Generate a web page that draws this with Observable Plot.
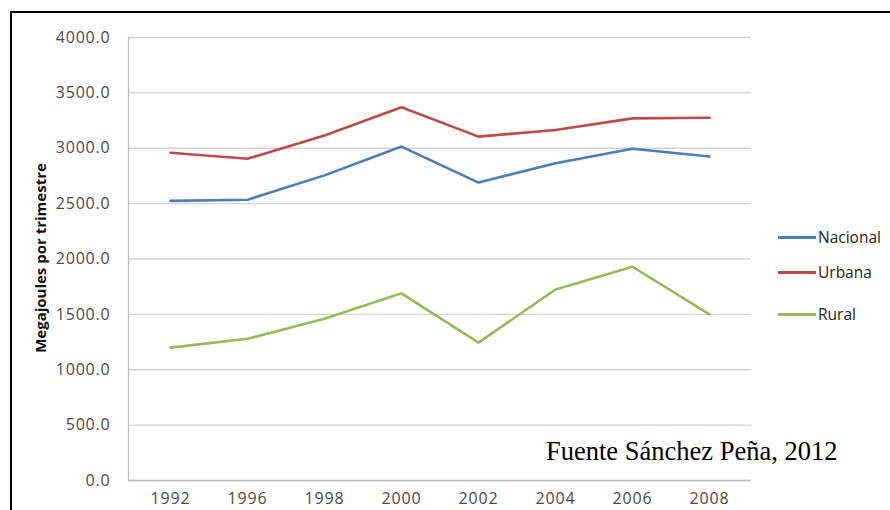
<!DOCTYPE html>
<html>
<head>
<meta charset="utf-8">
<script src="https://cdn.jsdelivr.net/npm/d3@7"></script>
<script src="https://cdn.jsdelivr.net/npm/@observablehq/plot@0.6"></script>
<style>
  html, body { margin: 0; padding: 0; background: #fff; }
  #wrap { position: relative; width: 890px; height: 510px; overflow: hidden; font-family: "Open Sans", sans-serif; }
  #wrap svg { position: absolute; left: 0; top: 0; }
  .border-left { position: absolute; left: 10px; top: 11px; width: 2px; height: 520px; background: #000; }
  .border-top { position: absolute; left: 10px; top: 11px; width: 900px; height: 2px; background: #000; }
  .legend { position: absolute; left: 778px; top: 226px; font-size: 15.5px; color: #222; }
  .legend .item { display: flex; align-items: center; height: 22px; position: absolute; left: 0; white-space: nowrap; }
  .legend .sw { width: 38px; height: 3px; margin-right: 2px; }
  .caption { position: absolute; left: 546px; top: 436px; font-family: "Liberation Serif", "Times New Roman", serif; font-size: 26.5px; line-height: 30px; color: #000; white-space: nowrap; }
  .ylabel { position: absolute; left: 40px; top: 258px; transform: translate(-50%, -50%) rotate(-90deg); font-size: 15px; font-weight: bold; color: #111; white-space: nowrap; }
</style>
</head>
<body>
<div id="wrap"></div>
<script>
const years = ["1992", "1996", "1998", "2000", "2002", "2004", "2006", "2008"];
const nacional = [2525, 2535, 2755, 3015, 2690, 2865, 2995, 2925];
const urbana = [2960, 2905, 3115, 3370, 3105, 3165, 3270, 3275];
const rural = [1200, 1280, 1460, 1690, 1245, 1725, 1930, 1500];
const seriesNames = ["Nacional", "Urbana", "Rural"];
const seriesColors = ["#4a7ebb", "#be4b48", "#98b954"];
const yTicks = [0, 500, 1000, 1500, 2000, 2500, 3000, 3500, 4000];
const yLabel = "Megajoules por trimestre";
const caption = "Fuente Sánchez Peña, 2012";

const seriesValues = [nacional, urbana, rural];
const data = [];
seriesNames.forEach((name, i) => {
  years.forEach((yr, j) => data.push({year: yr, value: seriesValues[i][j], series: name}));
});

const chart = Plot.plot({
  width: 890,
  height: 510,
  marginLeft: 128,
  marginRight: 139,
  marginTop: 37,
  marginBottom: 30,
  style: {fontFamily: "Open Sans, sans-serif", fontSize: "16px", color: "#4a4a4a", background: "transparent"},
  x: {type: "point", domain: years, padding: 0.5, label: null},
  y: {domain: [0, 4000], label: null},
  color: {domain: seriesNames, range: seriesColors},
  marks: [
    Plot.gridY(yTicks, {stroke: "#d4d4d4", strokeOpacity: 1, strokeWidth: 1.3}),
    Plot.frame({anchor: "left", stroke: "#bcbcbc", strokeWidth: 1.3}),
    Plot.ruleY([0], {stroke: "#bcbcbc", strokeWidth: 1.3}),
    Plot.axisY(yTicks, {tickSize: 0, tickPadding: 18, tickFormat: d => d.toFixed(1), fill: "#4a4a4a", label: null}),
    Plot.axisX({tickSize: 0, tickPadding: 12, fill: "#4a4a4a", label: null}),
    Plot.line(data, {x: "year", y: "value", z: "series", stroke: "series", strokeWidth: 2.6, strokeLinejoin: "round"})
  ]
});

const wrap = document.getElementById("wrap");
wrap.appendChild(chart);
d3.select(chart).selectAll("text").style("letter-spacing", "0.8px").style("font-size", "16px");

const bl = document.createElement("div"); bl.className = "border-left"; wrap.appendChild(bl);
const bt = document.createElement("div"); bt.className = "border-top"; wrap.appendChild(bt);

const yl = document.createElement("div"); yl.className = "ylabel"; yl.textContent = yLabel; wrap.appendChild(yl);

const legend = document.createElement("div"); legend.className = "legend";
const legendTops = [0, 35, 77];
seriesNames.forEach((name, i) => {
  const it = document.createElement("div"); it.className = "item";
  it.style.top = legendTops[i] + "px";
  const sw = document.createElement("span"); sw.className = "sw"; sw.style.background = seriesColors[i];
  const tx = document.createElement("span"); tx.textContent = name;
  it.appendChild(sw); it.appendChild(tx); legend.appendChild(it);
});
wrap.appendChild(legend);

const cap = document.createElement("div"); cap.className = "caption"; cap.textContent = caption; wrap.appendChild(cap);
</script>
</body>
</html>
